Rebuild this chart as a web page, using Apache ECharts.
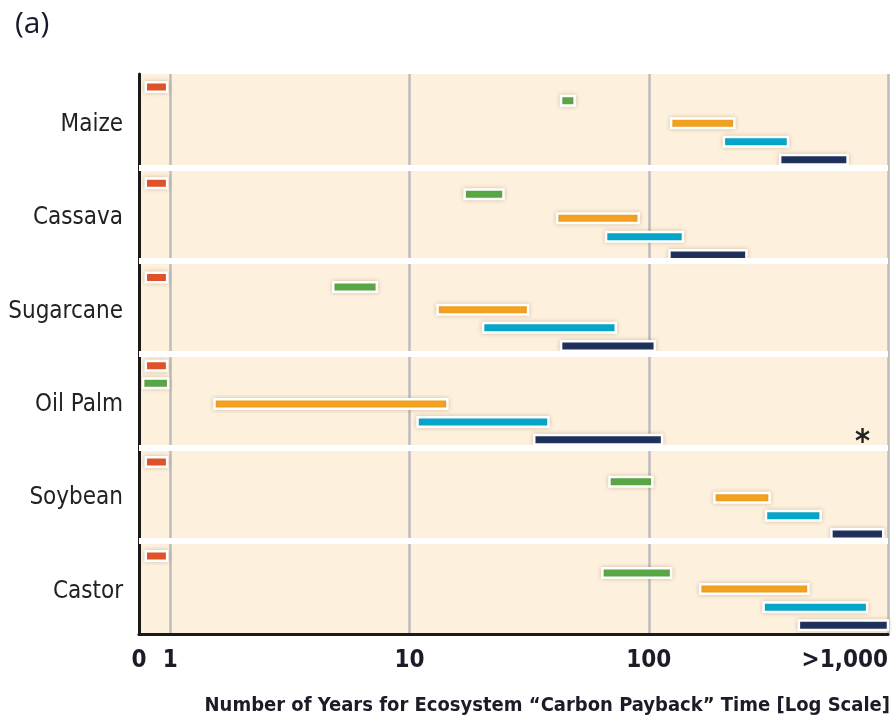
<!DOCTYPE html>
<html>
<head>
<meta charset="utf-8">
<script src="https://cdn.jsdelivr.net/npm/echarts@6/dist/echarts.min.js"></script>
<style>
  html, body { margin: 0; padding: 0; background: #fff; }
  #main { width: 894px; height: 721px; }
</style>
</head>
<body>
<div id="main"></div>
<script>
var crops = ['Maize', 'Cassava', 'Sugarcane', 'Oil Palm', 'Soybean', 'Castor'];

// years, low / high end of each bar
var redLow     = [0.79, 0.79, 0.79, 0.79, 0.79, 0.79];
var redHigh    = [0.97, 0.97, 0.97, 0.97, 0.97, 0.97];
var greenLow   = [43, 17, 4.8, 0.77, 68.5, 64];
var greenHigh  = [49, 24.7, 7.3, 0.98, 103.5, 124];
var orangeLow  = [124, 41.4, 13.1, 1.53, 188, 164];
var orangeHigh = [228, 90.8, 31.3, 14.4, 320, 465];
var cyanLow    = [206, 66.3, 20.3, 10.8, 309, 302];
var cyanHigh   = [382, 139, 72.8, 38.1, 523, 818];
var navyLow    = [354, 122, 43, 33.2, 580, 424];
var navyHigh   = [678, 256, 106, 113.7, 955, 1000];

// row of each bar inside its crop panel (0 top .. 1 bottom)
var redRow    = [0.14, 0.17, 0.18, 0.125, 0.157, 0.164];
var greenRow  = [0.286, 0.289, 0.282, 0.314, 0.368, 0.346];
var orangeRow = [0.528, 0.546, 0.525, 0.536, 0.54, 0.518];
var cyanRow   = [0.725, 0.743, 0.718, 0.729, 0.733, 0.714];
var navyRow   = [0.918, 0.939, 0.914, 0.918, 0.929, 0.907];

var axisMin = 0.74;  // "0" on the log scale
var axisMax = 1000;

var fontNarrow = "'Liberation Sans Narrow', 'DejaVu Sans Condensed', 'Roboto', sans-serif";

function rows(low, high, pos) {
    var out = [];
    for (var i = 0; i < crops.length; i++) {
        out.push([low[i], high[i], i + pos[i]]);
    }
    return out;
}

function renderBar(params, api) {
    var p0 = api.coord([api.value(0), api.value(2)]);
    var p1 = api.coord([api.value(1), api.value(2)]);
    var h = 9.5;
    return {
        type: 'rect',
        shape: { x: p0[0], y: p0[1] - h / 2, width: p1[0] - p0[0], height: h },
        style: {
            fill: api.visual('color'),
            stroke: '#ffffff',
            lineWidth: 2.5,
            shadowBlur: 4,
            shadowColor: 'rgba(120,90,40,0.25)'
        }
    };
}

function barSeries(name, color, low, high, pos) {
    return {
        name: name,
        type: 'custom',
        xAxisIndex: 0,
        yAxisIndex: 1,
        renderItem: renderBar,
        itemStyle: { color: color },
        encode: { x: [0, 1], y: 2 },
        data: rows(low, high, pos),
        z: 2
    };
}

var myChart = echarts.init(document.getElementById('main'));

var option = {
    animation: false,
    backgroundColor: '#ffffff',
    title: {
        text: '(a)',
        left: 10,
        top: 4,
        textStyle: { fontFamily: "'Open Sans', 'Noto Sans', sans-serif", fontSize: 30, fontWeight: 'normal', color: '#161a2a' }
    },
    grid: {
        left: 139,
        right: 6,
        top: 74,
        bottom: 87,
        show: true,
        backgroundColor: '#fdf0dd',
        borderWidth: 0
    },
    xAxis: {
        type: 'log',
        logBase: 10,
        min: axisMin,
        max: axisMax,
        axisLine: { show: true, onZero: false, lineStyle: { color: '#1a1a1a', width: 3 } },
        axisTick: { show: false },
        splitLine: { show: true, lineStyle: { color: '#bcbcbc', width: 2.5 } },
        axisLabel: {
            margin: 15,
            fontFamily: fontNarrow,
            fontSize: 24,
            fontWeight: 'bold',
            color: '#1c1c28',
            showMinLabel: true,
            showMaxLabel: true,
            alignMaxLabel: 'right',
            formatter: function (v) {
                if (v < 1) return '0';
                if (v >= 1000) return '>1,000';
                return String(Math.round(v));
            }
        }
    },
    yAxis: [{
        type: 'category',
        data: crops,
        inverse: true,
        axisLine: { show: true, lineStyle: { color: '#1a1a1a', width: 3 } },
        axisTick: { show: false },
        splitLine: { show: false },
        axisLabel: {
            margin: 16,
            formatter: '{c|{value}}',
            rich: {
                c: { padding: [8, 0, 0, 0], fontFamily: fontNarrow, fontSize: 24, color: '#222222' }
            }
        }
    }, {
        type: 'value',
        min: 0,
        max: 6,
        interval: 1,
        inverse: true,
        z: 3,
        axisLine: { show: false },
        axisTick: { show: false },
        axisLabel: { show: false },
        splitLine: { show: true, showMinLine: false, showMaxLine: false, lineStyle: { color: '#ffffff', width: 6 } }
    }],
    graphic: [{
        type: 'text',
        right: 4,
        top: 696,
        style: {
            text: 'Number of Years for Ecosystem \u201cCarbon Payback\u201d Time [Log Scale]',
            font: 'bold 20px ' + fontNarrow,
            fill: '#1c1c28'
        }
    }, {
        type: 'text',
        left: 855,
        top: 427,
        style: { text: '*', font: 'bold 32px ' + fontNarrow, fill: '#222222' }
    }],
    series: [
        barSeries('red', '#e5532a', redLow, redHigh, redRow),
        barSeries('green', '#58ab47', greenLow, greenHigh, greenRow),
        barSeries('orange', '#f9a521', orangeLow, orangeHigh, orangeRow),
        barSeries('cyan', '#00aad1', cyanLow, cyanHigh, cyanRow),
        barSeries('navy', '#1b2f5c', navyLow, navyHigh, navyRow)
    ]
};

myChart.setOption(option);
</script>
</body>
</html>
